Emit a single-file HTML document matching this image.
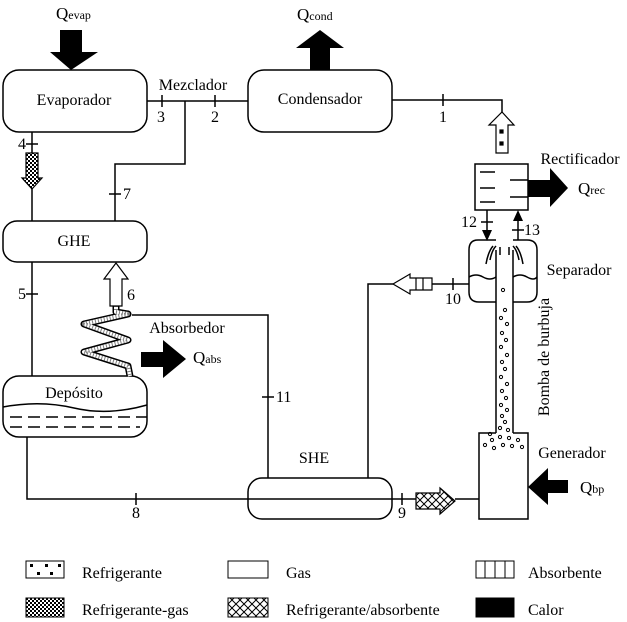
<!DOCTYPE html>
<html><head><meta charset="utf-8"><style>
html,body{margin:0;padding:0;background:#fff;}
svg{display:block;font-family:"Liberation Serif",serif;}
text{fill:#000;}
</style></head><body>
<svg width="627" height="622" viewBox="0 0 627 622" xmlns="http://www.w3.org/2000/svg">
<defs>
<pattern id="chk" width="4" height="4" patternUnits="userSpaceOnUse"><rect width="4" height="4" fill="#fff"/><rect width="2" height="2" fill="#000"/><rect x="2" y="2" width="2" height="2" fill="#000"/></pattern>
<pattern id="xh" width="8" height="8" patternUnits="userSpaceOnUse"><rect width="8" height="8" fill="#fff"/><path d="M0 0L8 8M8 0L0 8" stroke="#000" stroke-width="1"/></pattern>
</defs>
<g fill="none" stroke="#000" stroke-width="1.5">
<rect x="3" y="70" width="144" height="62" rx="16"/>
<rect x="248" y="70" width="144" height="62" rx="16"/>
<rect x="3" y="221" width="144" height="41" rx="14"/>
<rect x="248" y="478" width="144" height="41" rx="14"/>
<rect x="3" y="376" width="144" height="61" rx="16"/>
<path d="M3 407 Q40 400 74 408 T147 405"/>
<path d="M10 417H147M10 427H140" stroke-dasharray="12 6"/>
<path d="M147 101H248M392 100H502V112"/>
<path d="M162 95V107M215 95V107M443 94V106"/>
<path d="M185 101V164H115V221M109 194H121"/>
<path d="M32 132V153M32 189V221M26 144H38"/>
<path d="M32 262V376M26 294H38"/>
<path d="M27 437V499H416M136 493V505M402 493V505M455 499H479"/>
<path d="M132 315H268V478M262 397H274"/>
<path d="M368 478V284H393M432 284H469M453 278V290"/>
<rect x="475" y="164" width="53" height="46" fill="#fff"/>
<path d="M480 172H495M480 188H495M480 202H495M510 180H528M510 197H528"/>
<path d="M487 210V236M481 222H493M518 214V240M512 230H524"/>
<path d="M496 240H478Q469 240 469 250V292Q469 302 479 302H496M513 240H527Q537 240 537 250V292Q537 302 527 302H513"/>
<path d="M469 277Q476 273 483 277T496 277M513 277Q520 273 527 277T537 277"/>
<path d="M496 250V433M513 250V433"/>
<path d="M490 260Q492 250 496 246M486 264Q488 252 493 246M519 260Q517 250 513 246M523 264Q521 252 516 246M500 255V247M509 255V247"/>
<path d="M496 433H479V519H528V433H513"/>
</g>
<g fill="none" stroke-linejoin="round" stroke-linecap="butt">
<path d="M116 306V312L128 314L84 324L128 340L84 352L128 366L130 376" stroke="#000" stroke-width="7"/>
<path d="M116 306V312L128 314L84 324L128 340L84 352L128 366L130 376" stroke="#fff" stroke-width="4"/>
<path d="M116 306V312L128 314L84 324L128 340L84 352L128 366L130 376" stroke="#000" stroke-width="4" stroke-dasharray="1 2" opacity="0.5"/>
</g>
<g fill="#000" stroke="none">
<polygon points="60,30 82,30 82,52 98,52 71,70 50,52 60,52"/>
<polygon points="310,70 330,70 330,48 344,48 320,30 296,48 310,48"/>
<polygon points="528,180 550,180 550,168 568,188 550,207 550,197 528,197"/>
<polygon points="186,359 163,340 163,352 141,352 141,367 163,367 163,378"/>
<polygon points="528,487 548,468 548,480 568,480 568,493 548,493 548,505"/>
<polygon points="482,230 492,230 487,241"/>
<polygon points="513,221 523,221 518,210"/>
</g>
<g stroke="#000" stroke-width="1.2">
<polygon points="496,153 508,153 508,125 514,125 502,112 489,125 496,125" fill="#fff"/>
<rect x="500" y="130" width="3" height="3" fill="#000"/><rect x="500" y="142" width="3" height="3" fill="#000"/>
<polygon points="110,306 122,306 122,279 128,279 116,263 104,279 110,279" fill="#fff"/>
<polygon points="26,153 38,153 38,178 42,178 32,189 22,178 26,178" fill="url(#chk)"/>
<polygon points="416,493 440,493 440,488 455,501 440,514 440,509 416,509" fill="url(#xh)"/>
<polygon points="432,278 410,278 410,274 393,284 410,294 410,290 432,290" fill="#fff"/>
<path d="M416 278V290M423 278V290"/>
</g>
<g fill="none" stroke="#000" stroke-width="1">
<circle cx="503" cy="290" r="1.6"/><circle cx="505" cy="310" r="1.6"/><circle cx="501" cy="318" r="1.6"/><circle cx="507" cy="324" r="1.6"/><circle cx="502" cy="333" r="1.6"/><circle cx="506" cy="340" r="1.6"/><circle cx="501" cy="347" r="1.6"/><circle cx="507" cy="355" r="1.6"/><circle cx="502" cy="362" r="1.6"/><circle cx="505" cy="369" r="1.6"/><circle cx="501" cy="377" r="1.6"/><circle cx="507" cy="384" r="1.6"/><circle cx="502" cy="391" r="1.6"/><circle cx="506" cy="398" r="1.6"/><circle cx="501" cy="405" r="1.6"/><circle cx="507" cy="410" r="1.6"/><circle cx="502" cy="416" r="1.6"/><circle cx="505" cy="422" r="1.6"/><circle cx="500" cy="428" r="1.6"/><circle cx="508" cy="430" r="1.6"/>
<circle cx="485" cy="445" r="1.6"/><circle cx="492" cy="440" r="1.6"/><circle cx="494" cy="448" r="1.6"/><circle cx="500" cy="437" r="1.6"/><circle cx="503" cy="445" r="1.6"/><circle cx="509" cy="438" r="1.6"/><circle cx="512" cy="446" r="1.6"/><circle cx="518" cy="440" r="1.6"/><circle cx="522" cy="447" r="1.6"/><circle cx="490" cy="434" r="1.6"/>
</g>
<g font-size="16">
<text x="74" y="105" text-anchor="middle">Evaporador</text>
<text x="320" y="104" text-anchor="middle">Condensador</text>
<text x="74" y="246" text-anchor="middle">GHE</text>
<text x="74" y="398" text-anchor="middle">Depósito</text>
<text x="314" y="463" text-anchor="middle">SHE</text>
<text x="193" y="90" text-anchor="middle">Mezclador</text>
<text x="580" y="164" text-anchor="middle">Rectificador</text>
<text x="579" y="275" text-anchor="middle">Separador</text>
<text x="572" y="458" text-anchor="middle">Generador</text>
<text x="187" y="333" text-anchor="middle">Absorbedor</text>
<text x="161" y="122" text-anchor="middle">3</text>
<text x="215" y="122" text-anchor="middle">2</text>
<text x="443" y="122" text-anchor="middle">1</text>
<text x="18" y="149">4</text>
<text x="18" y="299">5</text>
<text x="127" y="300">6</text>
<text x="123" y="199">7</text>
<text x="136" y="518" text-anchor="middle">8</text>
<text x="402" y="518" text-anchor="middle">9</text>
<text x="453" y="304" text-anchor="middle">10</text>
<text x="276" y="402">11</text>
<text x="461" y="227">12</text>
<text x="524" y="235">13</text>
<text transform="translate(549,357) rotate(-90)" text-anchor="middle">Bomba de burbuja</text>
<text x="56" y="19" font-size="17">Q<tspan font-size="12">evap</tspan></text>
<text x="297" y="20" font-size="17">Q<tspan font-size="12">cond</tspan></text>
<text x="578" y="194" font-size="17">Q<tspan font-size="12">rec</tspan></text>
<text x="193" y="363" font-size="17">Q<tspan font-size="12">abs</tspan></text>
<text x="580" y="493" font-size="17">Q<tspan font-size="12">bp</tspan></text>
</g>
<g stroke="#000" stroke-width="1">
<rect x="26" y="561" width="38" height="17" fill="#fff"/>
<g fill="#000" stroke="none"><rect x="30" y="564" width="3" height="3"/><rect x="45" y="564" width="3" height="3"/><rect x="58" y="564" width="3" height="3"/><rect x="37" y="572" width="3" height="3"/><rect x="50" y="572" width="3" height="3"/></g>
<rect x="228" y="561" width="40" height="17" fill="#fff"/>
<rect x="476" y="561" width="38" height="17" fill="#fff"/>
<path d="M485 561V578M495 561V578M505 561V578"/>
<rect x="26" y="598" width="38" height="19" fill="url(#chk)"/>
<rect x="228" y="598" width="40" height="19" fill="url(#xh)"/>
<rect x="476" y="598" width="38" height="19" fill="#000"/>
</g>
<g font-size="16">
<text x="82" y="578">Refrigerante</text>
<text x="286" y="578">Gas</text>
<text x="528" y="578">Absorbente</text>
<text x="82" y="615">Refrigerante-gas</text>
<text x="286" y="615">Refrigerante/absorbente</text>
<text x="528" y="615">Calor</text>
</g>
</svg>
</body></html>
